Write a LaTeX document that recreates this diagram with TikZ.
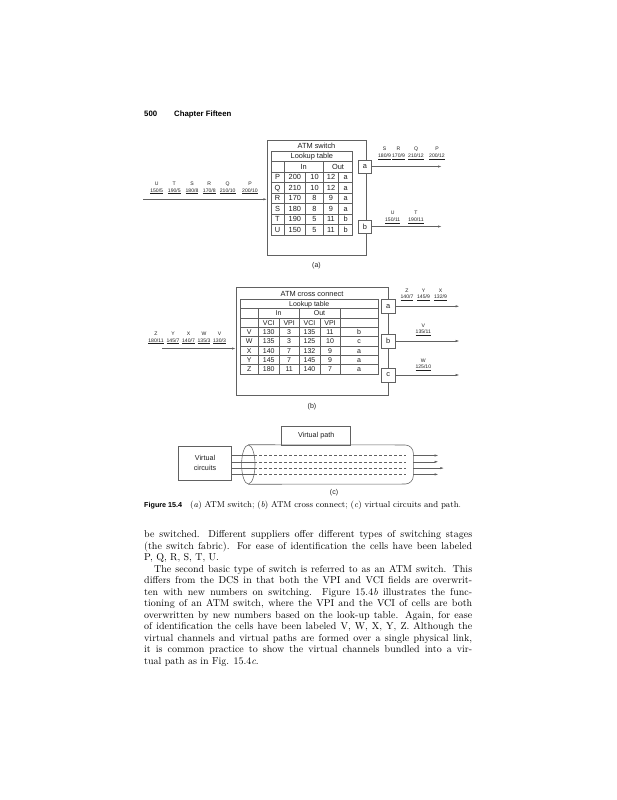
\documentclass[tikz,border=0pt]{standalone}
\usepackage{fontspec}
\newfontfamily\dsans{Liberation Sans}
\usetikzlibrary{arrows.meta,shapes.geometric}
\definecolor{lc}{gray}{0.38}
\definecolor{tc}{gray}{0.12}
\tikzset{
  ln/.style={draw=lc, line width=0.55pt},
  tb/.style={font=\dsans\fontsize{7.4}{8}\selectfont, inner sep=0pt, text=tc, anchor=base, yshift=-2.7pt},
  tbs/.style={font=\dsans\fontsize{7}{8}\selectfont, inner sep=0pt, text=tc, anchor=base, yshift=-2.5pt},
  lb/.style={font=\dsans\fontsize{5.1}{6}\selectfont, inner sep=0pt, text=tc, anchor=base, yshift=-1.8pt},
  port/.style={draw=lc, line width=0.55pt, fill=white, minimum width=13.5pt, minimum height=13pt, inner sep=0pt, font=\dsans\fontsize{7.4}{8}\selectfont, text=tc},
  frame/.style={draw=lc, line width=0.55pt, inner sep=0pt, anchor=north west},
  arr/.style={draw=lc, line width=0.55pt, -{Latex[length=3.6pt,width=2.2pt]}},
  body/.style={anchor=base west, inner sep=0pt, font=\fontsize{10}{12}\selectfont, text=black},
  hdr/.style={anchor=base west, inner sep=0pt, font=\dsans\bfseries\fontsize{7.8}{9}\selectfont, text=black},
}
\begin{document}
\begin{tikzpicture}[x=1pt,y=-1pt]
\fill[white] (0,0) rectangle (617,800);
\useasboundingbox (0,0) rectangle (617,800);

% header
\node[hdr] (pg) at (144,116) {500};
\node[hdr] (ch) at (174,116) {Chapter Fifteen};

% ---------------- (a) ----------------
\node[frame, minimum width=99pt, minimum height=115pt] (aBox) at (267,140) {};
\node[tb] (aTitle) at (316.5,145.6) {ATM switch};
\draw[ln] (271,151) rectangle (352.7,235);
\foreach \yy in {161.5,172,182.5,193,203.5,214,224.5} \draw[ln] (271,\yy) -- (352.7,\yy);
\draw[ln] (284,161.5) -- (284,235);
\draw[ln] (305.7,172) -- (305.7,235);
\draw[ln] (323.3,161.5) -- (323.3,235);
\draw[ln] (338.7,172) -- (338.7,235);
\node[tb] (aLook) at (311.85,156.25) {Lookup table};
\node[tb] (aIn) at (303.65,166.75) {In};
\node[tb] (aOut) at (338,166.75) {Out};
\foreach \L/\A/\B/\C/\D [count=\i] in {P/200/10/12/a, Q/210/10/12/a, R/170/8/9/a, S/180/8/9/a, T/190/5/11/b, U/150/5/11/b}{
  \pgfmathsetmacro\yy{166.75+10.5*\i}
  \node[tb] (aR\i L) at (277.5,\yy) {\L};
  \node[tb] (aR\i A) at (294.85,\yy) {\A};
  \node[tb] (aR\i B) at (314.5,\yy) {\B};
  \node[tb] (aR\i C) at (331,\yy) {\C};
  \node[tb] (aR\i D) at (345.7,\yy) {\D};
}
\node[port] (aA) at (365,166.5) {a};
\node[port] (aB) at (365,226.5) {b};
\coordinate (aOutA) at (441.7,166.5);
\coordinate (aOutB) at (441.7,226.5);
\draw[arr] (aA) -- (aOutA);
\draw[arr] (aB) -- (aOutB);
\coordinate (aInS) at (143.3,199.3);
\draw[arr] (aInS) -- (aInS -| aBox.west);
\foreach \x/\l/\n [count=\i] in {384.5/S/180\slash 9, 398.5/R/170\slash 9, 416/Q/210\slash 12, 437/P/200\slash 12}{
  \node[lb] (aTL\i) at (\x,149) {\l};
  \node[lb] (aTN\i) at (\x,155.5) {\underline{\n}};
}
\foreach \x/\l/\n [count=\i] in {392.7/U/150\slash 11, 416/T/190\slash 11}{
  \node[lb] (aBL\i) at (\x,213) {\l};
  \node[lb] (aBN\i) at (\x,219.5) {\underline{\n}};
}
\foreach \x/\l/\n [count=\i] in {156.7/U/150\slash 5, 174.3/T/190\slash 5, 192/S/180\slash 8, 209.3/R/170\slash 8, 227.7/Q/210\slash 10, 250/P/200\slash 10}{
  \node[lb] (aLL\i) at (\x,184) {\l};
  \node[lb] (aLN\i) at (\x,190.2) {\underline{\n}};
}
\node[tbs] (capA) at (316.5,265) {(a)};

% ---------------- (b) ----------------
\node[frame, minimum width=152.6pt, minimum height=108.3pt] (bBox) at (235.7,286.7) {};
\node[tb] (bTitle) at (312,293.3) {ATM cross connect};
\draw[ln] (240,299.3) rectangle (378.3,374.02);
\foreach \yy in {308.64,317.98,327.32,336.66,346.0,355.34,364.68} \draw[ln] (240,\yy) -- (378.3,\yy);
\draw[ln] (258.3,308.64) -- (258.3,374.02);
\draw[ln] (279.3,317.98) -- (279.3,374.02);
\draw[ln] (299,308.64) -- (299,374.02);
\draw[ln] (320,317.98) -- (320,374.02);
\draw[ln] (340,308.64) -- (340,374.02);
\node[tbs] (bLook) at (309.15,303.97) {Lookup table};
\node[tbs] (bIn) at (278.65,313.31) {In};
\node[tbs] (bOut) at (319.5,313.31) {Out};
\node[tbs] (bH1) at (268.8,322.65) {VCI};
\node[tbs] (bH2) at (289.15,322.65) {VPI};
\node[tbs] (bH3) at (309.5,322.65) {VCI};
\node[tbs] (bH4) at (330,322.65) {VPI};
\foreach \L/\A/\B/\C/\D/\E [count=\i] in {V/130/3/135/11/b, W/135/3/125/10/c, X/140/7/132/9/a, Y/145/7/145/9/a, Z/180/11/140/7/a}{
  \pgfmathsetmacro\yy{322.65+9.34*\i}
  \node[tbs] (bR\i L) at (249.15,\yy) {\L};
  \node[tbs] (bR\i A) at (268.8,\yy) {\A};
  \node[tbs] (bR\i B) at (289.15,\yy) {\B};
  \node[tbs] (bR\i C) at (309.5,\yy) {\C};
  \node[tbs] (bR\i D) at (330,\yy) {\D};
  \node[tbs] (bR\i E) at (359.15,\yy) {\E};
}
\node[port, minimum height=14pt] (bA) at (388.3,306.3) {a};
\node[port, minimum height=14pt] (bB) at (388.3,341) {b};
\node[port, minimum height=14pt] (bC) at (388.3,375) {c};
\coordinate (bOutA) at (459.3,306.3);
\coordinate (bOutB) at (459.3,341);
\coordinate (bOutC) at (459.3,375);
\draw[arr] (bA) -- (bOutA);
\draw[arr] (bB) -- (bOutB);
\draw[arr] (bC) -- (bOutC);
\coordinate (bInS) at (162,348.5);
\draw[arr] (bInS) -- (bInS -| bBox.west);
\foreach \x/\l/\n [count=\i] in {407/Z/140\slash 7, 423.5/Y/145\slash 9, 440.5/X/132\slash 9}{
  \node[lb] (bTL\i) at (\x,290.7) {\l};
  \node[lb] (bTN\i) at (\x,296.9) {\underline{\n}};
}
\node[lb] (bVL) at (423.3,325.3) {V};
\node[lb] (bVN) at (423.3,331.5) {\underline{135/11}};
\node[lb] (bWL) at (423.3,360.3) {W};
\node[lb] (bWN) at (423.3,366.5) {\underline{125/10}};
\foreach \x/\l/\n [count=\i] in {156/Z/180\slash 11, 173/Y/145\slash 7, 188.5/X/140\slash 7, 204/W/135\slash 3, 219.5/V/130\slash 3}{
  \node[lb] (bLL\i) at (\x,334) {\l};
  \node[lb] (bLN\i) at (\x,340.2) {\underline{\n}};
}
\node[tbs] (capB) at (312,406) {(b)};

% ---------------- (c) ----------------
\node[draw=lc, line width=0.55pt, minimum width=69pt, minimum height=18.3pt, inner sep=0pt, font=\dsans\fontsize{7.2}{9}\selectfont, text=tc] (vp) at (316.2,435.85) {Virtual path};
\node[draw=lc, line width=0.55pt, minimum width=53.4pt, minimum height=33.3pt, inner sep=0pt, align=center, font=\dsans\fontsize{7.2}{10}\selectfont, text=tc] (vc) at (205,463.4) {Virtual\\circuits};
\node[draw=lc, line width=0.55pt, ellipse, minimum width=13.4pt, minimum height=39pt, inner sep=0pt] (ell) at (248.3,464.5) {};
\draw[ln, rounded corners=8pt] (ell.north) -- (413.3,445) -- (413.3,484) -- (ell.south);
\foreach \yy/\tip [count=\i] in {455.5/438.3, 461.8/438.3, 468.1/444, 474.4/438.3}{
  \coordinate (cy\i) at (0,\yy);
  \coordinate (cs\i) at (254,\yy);
  \coordinate (cd\i) at (406,\yy);
  \coordinate (ce\i) at (413.3,\yy);
  \coordinate (ct\i) at (\tip,\yy);
  \draw[ln] (vc.east |- cy\i) -- (cs\i);
  \draw[ln, dash pattern=on 3pt off 2pt] (cs\i) -- (cd\i);
  \draw[arr] (ce\i) -- (ct\i);
}
\node[tbs] (capC) at (334,492) {(c)};

% caption
\node[anchor=base west, inner sep=0pt, font=\dsans\bfseries\fontsize{7.2}{9}\selectfont] (figl) at (144,507.5) {Figure 15.4};
\node[anchor=base west, inner sep=0pt, font=\fontsize{8.6}{10}\selectfont] (figc) at (190,507.5) {\makebox[271pt][s]{(\textit{a}) ATM switch; (\textit{b}) ATM cross connect; (\textit{c}) virtual circuits and path.}};

% body text
\node[body] (t1) at (144,537.5) {\makebox[328pt][s]{be switched. Different suppliers offer different types of switching stages}};
\node[body] (t2) at (144,549) {\makebox[328pt][s]{(the switch fabric). For ease of identification the cells have been labeled}};
\node[body] (t3) at (144,560.5) {P, Q, R, S, T, U.};
\node[body] (t4) at (154,572) {\makebox[318pt][s]{The second basic type of switch is referred to as an ATM switch. This}};
\node[body] (t5) at (144,583.5) {\makebox[328pt][s]{differs from the DCS in that both the VPI and VCI fields are overwrit-}};
\node[body] (t6) at (144,595) {\makebox[328pt][s]{ten with new numbers on switching. Figure 15.4\textit{b} illustrates the func-}};
\node[body] (t7) at (144,606.5) {\makebox[328pt][s]{tioning of an ATM switch, where the VPI and the VCI of cells are both}};
\node[body] (t8) at (144,618) {\makebox[328pt][s]{overwritten by new numbers based on the look-up table. Again, for ease}};
\node[body] (t9) at (144,629.5) {\makebox[328pt][s]{of identification the cells have been labeled V, W, X, Y, Z. Although the}};
\node[body] (t10) at (144,641) {\makebox[328pt][s]{virtual channels and virtual paths are formed over a single physical link,}};
\node[body] (t11) at (144,652.5) {\makebox[328pt][s]{it is common practice to show the virtual channels bundled into a vir-}};
\node[body] (t12) at (144,664) {tual path as in Fig. 15.4\textit{c}.};
\end{tikzpicture}
\end{document}
